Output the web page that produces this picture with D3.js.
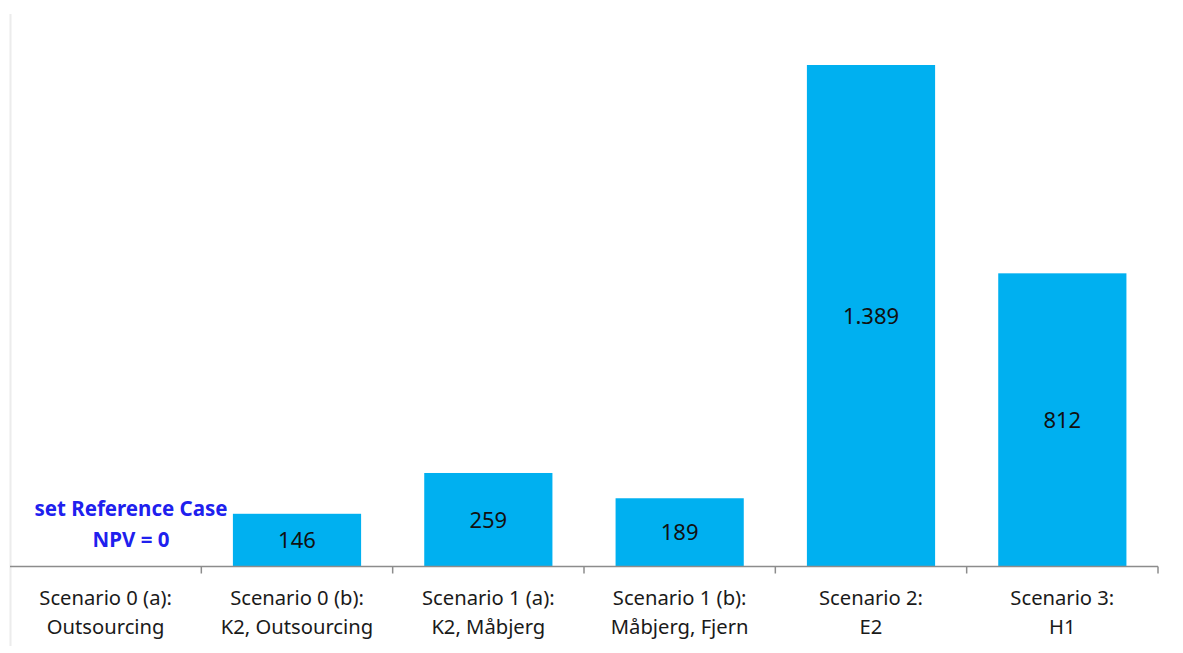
<!DOCTYPE html>
<html>
<head>
<meta charset="utf-8">
<script src="https://cdnjs.cloudflare.com/ajax/libs/d3/7.8.5/d3.min.js"></script>
<style>
  body { margin: 0; background: #fff; }
  text { font-family: "Noto Sans", sans-serif; }
</style>
</head>
<body>
<div id="chart"></div>
<script>
// categories (two lines each) and NPV values
var labelsTop = ["Scenario 0 (a):", "Scenario 0 (b):", "Scenario 1 (a):", "Scenario 1 (b):", "Scenario 2:", "Scenario 3:"];
var labelsBottom = ["Outsourcing", "K2, Outsourcing", "K2, Måbjerg", "Måbjerg, Fjern", "E2", "H1"];
var values = [0, 146, 259, 189, 1389, 812];
var valueText = ["", "146", "259", "189", "1.389", "812"];

var width = 1183, height = 653;
var margin = {left: 10, right: 25, top: 14, bottom: 86};
var baseY = height - margin.bottom - 0.5;

var svg = d3.select("#chart").append("svg")
  .attr("width", width)
  .attr("height", height);

// light frame line at the left
svg.append("line")
  .attr("x1", 10.5).attr("x2", 10.5)
  .attr("y1", margin.top).attr("y2", 646)
  .attr("stroke", "#ececec")
  .attr("stroke-width", 2);

var xScale = d3.scaleBand()
  .domain(d3.range(values.length))
  .range([margin.left, width - margin.right])
  .paddingInner(0.33)
  .paddingOuter(0.165);

var yScale = d3.scaleLinear()
  .domain([0, 1389])
  .range([baseY, 65]);

var bandStep = xScale.step();
var x0 = margin.left;

svg.selectAll("rect.bar")
  .data(values).enter().append("rect")
    .attr("class", "bar")
    .attr("x", function(d, i) { return xScale(i); })
    .attr("y", function(d) { return yScale(d); })
    .attr("width", xScale.bandwidth())
    .attr("height", function(d) { return baseY - yScale(d); })
    .attr("fill", "#00b0f0");

svg.selectAll(".val")
  .data(values).enter().append("text")
    .attr("class", "val")
    .attr("text-anchor", "middle")
    .attr("x", function(d, i) { return xScale(i) + xScale.bandwidth() / 2; })
    .attr("y", function(d) { return (yScale(d) + baseY) / 2 + 8; })
    .attr("font-size", 22)
    .attr("fill", "#111")
    .text(function(d, i) { return valueText[i]; });

// category axis
svg.append("line")
  .attr("x1", x0).attr("x2", width - margin.right)
  .attr("y1", baseY).attr("y2", baseY)
  .attr("stroke", "#8c8c8c")
  .attr("stroke-width", 1.5);

svg.selectAll(".tick")
  .data(d3.range(1, values.length + 1)).enter().append("line")
    .attr("class", "tick")
    .attr("x1", function(d) { return x0 + d * bandStep; })
    .attr("x2", function(d) { return x0 + d * bandStep; })
    .attr("y1", baseY).attr("y2", baseY + 7)
    .attr("stroke", "#8c8c8c")
    .attr("stroke-width", 1.5);

svg.selectAll(".cat1")
  .data(labelsTop).enter().append("text")
    .attr("class", "cat1")
    .attr("text-anchor", "middle")
    .attr("x", function(d, i) { return xScale(i) + xScale.bandwidth() / 2; })
    .attr("y", 605)
    .attr("font-size", 20.2)
    .attr("fill", "#1a1a1a")
    .text(function(d) { return d; });

svg.selectAll(".cat2")
  .data(labelsBottom).enter().append("text")
    .attr("class", "cat2")
    .attr("text-anchor", "middle")
    .attr("x", function(d, i) { return xScale(i) + xScale.bandwidth() / 2; })
    .attr("y", 634)
    .attr("font-size", 20.2)
    .attr("fill", "#1a1a1a")
    .text(function(d) { return d; });

// reference case note
var note = ["set Reference Case", "NPV = 0"];
svg.selectAll(".note")
  .data(note).enter().append("text")
    .attr("class", "note")
    .attr("text-anchor", "middle")
    .attr("x", 131)
    .attr("y", function(d, i) { return 516 + i * 31; })
    .attr("font-size", 20.5)
    .attr("font-weight", "bold")
    .attr("fill", "#2020ee")
    .text(function(d) { return d; });
</script>
</body>
</html>
